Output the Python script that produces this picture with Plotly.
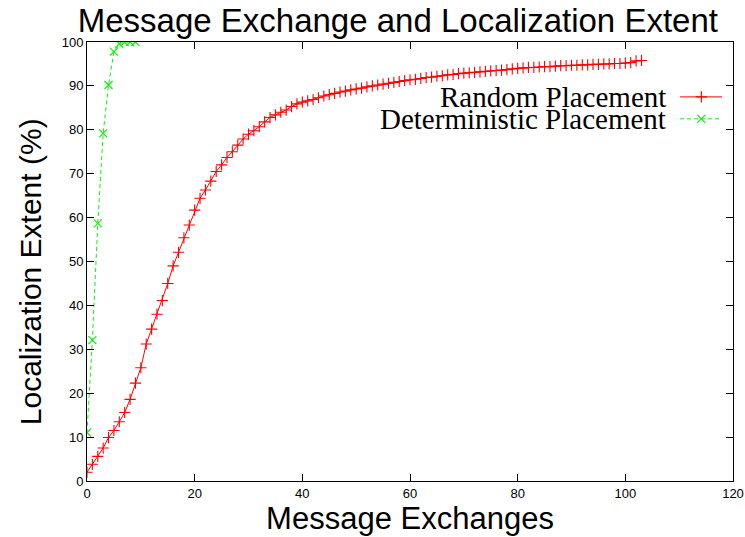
import plotly.graph_objects as go

# Random placement: localization extent (%) after each message exchange
random_x = list(range(0, 104))
random_y = [
    2.0, 3.8, 5.6, 7.5, 9.9, 11.5, 13.5, 15.6, 18.6, 22.3,
    25.8, 31.2, 34.6, 38.0, 41.1, 45.0, 49.0, 52.1, 55.4, 58.3,
    61.7, 64.4, 66.3, 68.3, 70.5, 72.0, 73.7, 75.0, 76.5, 77.9,
    79.0, 79.8, 80.7, 81.8, 82.8, 83.4, 84.0, 84.5, 85.3, 85.9,
    86.3, 86.6, 86.9, 87.3, 87.7, 88.0, 88.3, 88.6, 88.8, 89.1,
    89.3, 89.5, 89.8, 90.0, 90.2, 90.4, 90.6, 90.8, 91.0, 91.2,
    91.4, 91.5, 91.7, 91.9, 92.0, 92.2, 92.3, 92.5, 92.6, 92.8,
    92.9, 93.0, 93.1, 93.2, 93.3, 93.4, 93.5, 93.6, 93.7, 93.9,
    94.0, 94.1, 94.2, 94.2, 94.3, 94.4, 94.4, 94.5, 94.6, 94.6,
    94.7, 94.7, 94.8, 94.8, 94.9, 94.9, 95.0, 95.0, 95.1, 95.1,
    95.2, 95.3, 95.7, 95.8,
]

# Deterministic placement
determ_x = [0, 1, 2, 3, 4, 5, 6, 7, 8, 9]
determ_y = [11.0, 32.1, 58.7, 79.2, 90.2, 97.8, 99.6, 100.0, 100.0, 100.0]

x_ticks = [0, 20, 40, 60, 80, 100, 120]
y_ticks = [0, 10, 20, 30, 40, 50, 60, 70, 80, 90, 100]

legend_labels = ["Random Placement", "Deterministic Placement"]

RED = "#ff0000"
GREEN = "#11ee11"
SANS = "Liberation Sans"

fig = go.Figure()

fig.add_trace(go.Scatter(
    x=random_x, y=random_y, mode="lines+markers",
    line=dict(color=RED, width=1),
    marker=dict(symbol="cross-thin-open", size=8, color=RED,
                line=dict(color=RED, width=1.1)),
    showlegend=False,
))
fig.add_trace(go.Scatter(
    x=determ_x, y=determ_y, mode="lines+markers",
    line=dict(color=GREEN, width=1, dash="4px,3px"),
    marker=dict(symbol="x-thin-open", size=8, color=GREEN,
                line=dict(color=GREEN, width=1.2)),
    showlegend=False,
))

# Legend keys drawn on a hidden unit overlay (text left, sample right)
key_rows = [0.875, 0.825]
key_styles = [
    (RED, "solid", "cross-thin-open", 8),
    (GREEN, "4px,3px", "x-thin-open", 8),
]
for label, ky, (col, dash, sym, sz) in zip(legend_labels, key_rows, key_styles):
    fig.add_trace(go.Scatter(
        x=[0.918, 0.983], y=[ky, ky], mode="lines",
        line=dict(color=col, width=1, dash=dash),
        xaxis="x2", yaxis="y2", showlegend=False, hoverinfo="skip",
    ))
    fig.add_trace(go.Scatter(
        x=[0.951], y=[ky], mode="markers",
        marker=dict(symbol=sym, size=sz, color=col, line=dict(color=col, width=1.2)),
        xaxis="x2", yaxis="y2", showlegend=False, hoverinfo="skip",
    ))
    fig.add_annotation(
        x=0.899, y=ky, xref="x2", yref="y2", text=label, showarrow=False,
        xanchor="right", yanchor="middle",
        font=dict(family="Liberation Serif", size=29, color="black"),
    )

# y-axis title placed as a rotated annotation
fig.add_annotation(
    x=-0.088, y=0.476, xref="paper", yref="paper",
    text="Localization Extent (%)", textangle=-90, showarrow=False,
    xanchor="center", yanchor="middle",
    font=dict(family=SANS, size=30, color="black"),
)

axis_common = dict(
    showline=True, linecolor="black", linewidth=1, mirror="ticks",
    ticks="inside", ticklen=7, tickwidth=1, tickcolor="black",
    showgrid=False, zeroline=False, automargin=False,
    tickfont=dict(family=SANS, size=13, color="black"),
)

fig.update_layout(
    width=745, height=537,
    margin=dict(l=87, r=12, t=42, b=56),
    paper_bgcolor="white", plot_bgcolor="white",
    title=dict(
        text="Message Exchange and Localization Extent",
        x=0.534, xanchor="center", y=0.984, yanchor="top",
        font=dict(family=SANS, size=33, color="black"),
    ),
    xaxis=dict(
        range=[0, 120], tickvals=x_ticks,
        title=dict(text="Message Exchanges", standoff=2,
                   font=dict(family=SANS, size=31, color="black")),
        **axis_common,
    ),
    yaxis=dict(
        range=[0, 100], tickvals=y_ticks,
        **axis_common,
    ),
    xaxis2=dict(range=[0, 1], overlaying="x", visible=False, fixedrange=True),
    yaxis2=dict(range=[0, 1], overlaying="y", visible=False, fixedrange=True),
    showlegend=False,
)

fig.write_html("out.html")
